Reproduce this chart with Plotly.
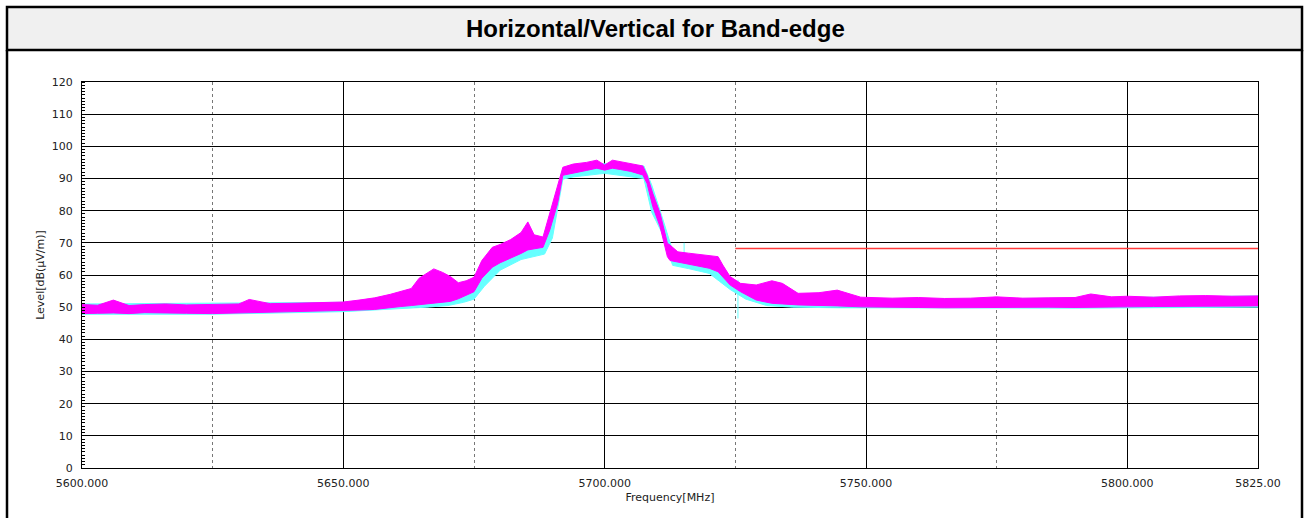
import plotly.graph_objects as go

# Spectrum envelope, horizontal polarisation (magenta): frequency [MHz], peak/floor [dB(uV/m)]
freq_mhz = [5600, 5603, 5606, 5609, 5612, 5616, 5620, 5625, 5630, 5632, 5636, 5640, 5645,
            5650, 5653, 5656, 5659, 5661, 5663, 5664.5, 5666, 5667.3, 5669, 5670.5, 5672,
            5673.5, 5675, 5676.5, 5678.5, 5680, 5682, 5684, 5685.3, 5686.5, 5688.2, 5689.5,
            5691, 5692, 5694, 5696.5, 5698.5, 5700, 5701.5, 5703, 5705, 5707.3, 5708.1,
            5709.2, 5710.6, 5712, 5712.5, 5714, 5716, 5718, 5720, 5721.7, 5722.6, 5724,
            5726, 5729, 5732, 5734, 5737, 5741, 5744.5, 5749, 5755, 5760, 5765, 5770, 5775,
            5780, 5785, 5790, 5793, 5797, 5800, 5805, 5810, 5815, 5820, 5825]
horiz_hi = [50.8, 50.6, 52.2, 50.5, 50.8, 51.0, 50.7, 50.9, 51.0, 52.4, 51.1, 51.2, 51.3,
            51.6, 52.2, 52.9, 54.0, 55.0, 55.8, 59.0, 60.5, 61.9, 60.8, 59.5, 57.6,
            58.2, 59.3, 64.5, 68.6, 69.5, 71.0, 73.2, 76.5, 72.5, 71.8, 79.0,
            87.5, 93.5, 94.5, 95.0, 95.7, 94.2, 95.7, 95.2, 94.6, 93.9, 91.1,
            85.4, 79.2, 69.9, 69.3, 67.2, 66.8, 66.4, 66.2, 65.7, 63.1, 59.5,
            57.4, 56.9, 58.2, 57.4, 54.3, 54.5, 55.3, 53.1, 52.8, 53.0, 52.7, 52.8, 53.2,
            52.8, 52.9, 53.0, 54.1, 53.2, 53.4, 53.1, 53.5, 53.6, 53.4, 53.5]
horiz_lo = [48.0, 48.1, 48.2, 48.0, 48.3, 48.2, 48.1, 48.0, 48.3, 48.4, 48.4, 48.6, 48.8,
            49.0, 49.1, 49.3, 49.8, 50.2, 50.5, 50.7, 51.0, 51.3, 51.5, 51.8, 52.6,
            53.6, 54.8, 59.0, 62.4, 63.8, 65.2, 66.7, 67.8, 68.2, 68.6, 74.0,
            82.3, 91.0, 91.6, 92.5, 93.2, 92.6, 93.2, 92.8, 92.2, 91.1, 88.5,
            81.3, 75.0, 65.7, 64.5, 64.1, 63.4, 62.8, 62.1, 61.0, 59.5, 56.9,
            54.8, 52.2, 51.2, 51.0, 50.7, 50.5, 50.4, 50.1, 49.9, 49.9, 49.8, 49.9, 49.8,
            49.9, 50.0, 49.9, 50.0, 50.0, 50.1, 50.2, 50.3, 50.2, 50.4, 50.4]

# Vertical polarisation (cyan)
vert_freq = [5600, 5625, 5650, 5658, 5662, 5666, 5670, 5673, 5675, 5677, 5680, 5684, 5688.5,
             5690, 5692, 5694, 5700, 5707.5, 5709, 5711, 5713, 5716, 5720, 5722, 5724, 5727,
             5731, 5736, 5745, 5760, 5790, 5825]
vert_hi = [51.0, 51.2, 51.5, 52.5, 54.0, 56.5, 57.5, 56.5, 57.5, 62.5, 67.0, 70.0, 70.0,
           77.0, 93.0, 94.2, 94.6, 93.9, 88.0, 78.0, 67.5, 66.0, 65.0, 62.0, 58.0, 55.5,
           54.0, 53.0, 52.5, 52.5, 52.8, 53.5]
vert_lo = [47.8, 47.8, 48.6, 49.2, 49.6, 50.0, 50.5, 51.5, 52.5, 56.5, 61.5, 64.8, 66.5,
           71.5, 89.8, 90.5, 91.6, 90.0, 79.5, 73.0, 63.0, 62.0, 60.5, 58.0, 55.5, 52.5,
           50.5, 50.0, 49.8, 49.7, 49.7, 50.0]
vert_spike_freq = [5715.2, 5725.5]
vert_spike_lo = [63.0, 46.5]
vert_spike_hi = [70.0, 58.5]

# Band-edge limit line
limit_freq = [5725, 5825]
limit_level = [68.2, 68.2]

x_tick_vals = [5600, 5650, 5700, 5750, 5800, 5825]
x_tick_text = ["5600.000", "5650.000", "5700.000", "5750.000", "5800.000", "5825.00"]
x_minor_vals = [5625, 5675, 5725, 5775]
y_tick_vals = list(range(0, 121, 10))

MAGENTA = "#ff00ff"
CYAN = "#66ffff"

fig = go.Figure()


def band(xs, hi, lo, color, name):
    return go.Scatter(x=list(xs) + list(xs)[::-1], y=list(hi) + list(lo)[::-1],
                      fill="toself", fillcolor=color, mode="lines",
                      line=dict(color=color, width=1), name=name,
                      hoverinfo="skip", showlegend=False)


fig.add_trace(band(vert_freq, vert_hi, vert_lo, CYAN, "Vertical"))
for f, lo, hi in zip(vert_spike_freq, vert_spike_lo, vert_spike_hi):
    fig.add_trace(go.Scatter(x=[f, f], y=[lo, hi], mode="lines",
                             line=dict(color=CYAN, width=1), showlegend=False,
                             hoverinfo="skip"))
fig.add_trace(band(freq_mhz, horiz_hi, horiz_lo, MAGENTA, "Horizontal"))
fig.add_trace(go.Scatter(x=limit_freq, y=limit_level, mode="lines",
                         line=dict(color="#ff3b3b", width=1.5), showlegend=False,
                         hoverinfo="skip"))

W, H = 1305, 518
ML, MR, MT, MB = 82, 47, 82, 50
PW, PH = W - ML - MR, H - MT - MB


def px(xp):
    return (xp - ML) / PW


def py(yp):
    return (H - MB - yp) / PH


# Outer frame and grey title band
fig.add_shape(type="rect", xref="paper", yref="paper",
              x0=px(7), x1=px(1302), y0=py(50), y1=py(7),
              fillcolor="#f0f0f0", line=dict(color="black", width=2.5), layer="below")
fig.add_shape(type="line", xref="paper", yref="paper",
              x0=px(7), x1=px(7), y0=py(50), y1=py(530),
              line=dict(color="black", width=2.5))
fig.add_shape(type="line", xref="paper", yref="paper",
              x0=px(1302), x1=px(1302), y0=py(50), y1=py(530),
              line=dict(color="black", width=2.5))
fig.add_annotation(text="<b>Horizontal/Vertical for Band-edge</b>", xref="paper", yref="paper",
                   x=px(655), y=py(29), showarrow=False,
                   font=dict(family="Liberation Sans, Arial", size=24, color="black"),
                   xanchor="center", yanchor="middle")

fig.update_layout(
    width=W, height=H,
    margin=dict(l=ML, r=MR, t=MT, b=MB),
    paper_bgcolor="white", plot_bgcolor="white",
    font=dict(family="DejaVu Sans", size=11, color="#222"),
    showlegend=False,
)
fig.update_xaxes(
    range=[5600, 5825], tickvals=x_tick_vals, ticktext=x_tick_text,
    showgrid=True, gridcolor="black", gridwidth=1,
    showline=True, linecolor="black", linewidth=1, mirror=True,
    ticks="", zeroline=False, tickfont=dict(size=11, color="#222"),
    ticklabelstandoff=5,
    title=dict(text="Frequency[MHz]", font=dict(size=11, color="#222"), standoff=4),
    minor=dict(tickvals=x_minor_vals, showgrid=True, gridcolor="#777",
               griddash="dot", gridwidth=1, ticks=""),
)
fig.update_yaxes(
    range=[0, 120], tickvals=y_tick_vals,
    showgrid=True, gridcolor="black", gridwidth=1,
    showline=True, linecolor="black", linewidth=1, mirror=True,
    ticks="", zeroline=False, tickfont=dict(size=11, color="#222"),
    ticklabelstandoff=6,
    title=dict(text="Level[dB(µV/m)]", font=dict(size=11, color="#222"), standoff=4),
    minor=dict(dtick=1, ticks="inside", ticklen=3, tickcolor="black", showgrid=False),
)

fig.write_html("out.html")
